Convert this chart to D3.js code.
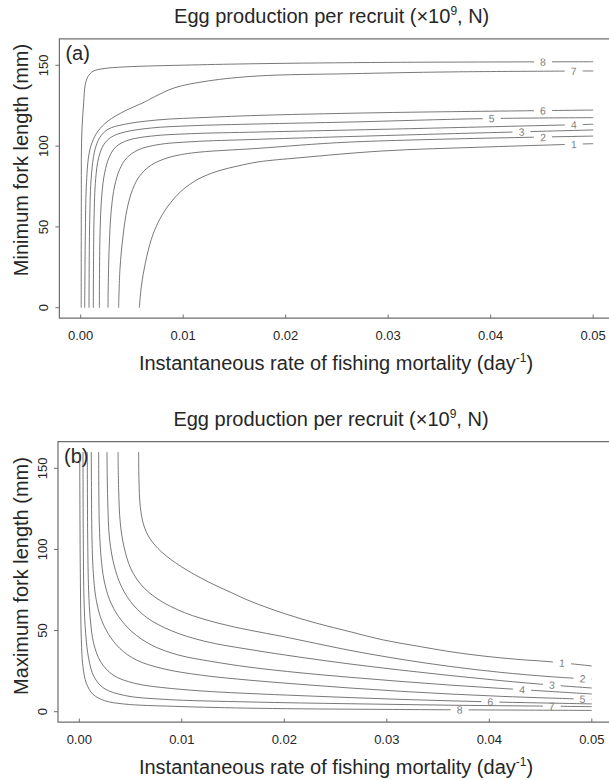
<!DOCTYPE html>
<html><head><meta charset="utf-8">
<script src="https://cdn.jsdelivr.net/npm/d3@7"></script>
<style>
body{margin:0;background:#fff}
text{font-family:Arial,"Liberation Sans",sans-serif}
</style></head>
<body><svg id="c" width="609" height="780"></svg>
<script>
// ---------- data ----------
const levels = [1, 2, 3, 4, 5, 6, 7, 8];
const xTicks = [0, 0.01, 0.02, 0.03, 0.04, 0.05];
const xTickLabels = ["0.00", "0.01", "0.02", "0.03", "0.04", "0.05"];
const yTicks = [0, 50, 100, 150];
const yTickLabels = ["0", "50", "100", "150"];

// Panel (a): minimum fork length — contour lines as [F, L]
const minC1 = [[0.00572,0],[0.00592,13.4],[0.00631,27.8],[0.00689,42.3],[0.00754,52.6],[0.00852,62.9],[0.00982,72.2],[0.01144,79.5],[0.0134,84.6],[0.01535,87.7],[0.0173,90.2],[0.0214,92.8],[0.0295,97],[0.0393,99.4],[0.05,101.5]];
const minC2 = [[0.0037,0],[0.00383,23.8],[0.00413,44.4],[0.00452,60.9],[0.00507,73.3],[0.00575,81.5],[0.00689,88.3],[0.00852,92.8],[0.01079,95.7],[0.0173,98.6],[0.0263,102.5],[0.05,106.2]];
const minC3 = [[0.00266,0],[0.00276,34],[0.00299,60.9],[0.00331,75.3],[0.0038,85.6],[0.00445,92.4],[0.00559,97.6],[0.00754,100.9],[0.01079,102.7],[0.0173,104.2],[0.0328,107.1],[0.05,110]];
const minC4 = [[0.00182,0],[0.00188,44.4],[0.00205,69.1],[0.00234,83.5],[0.00276,92.8],[0.00341,99.4],[0.00461,103.6],[0.00689,106.2],[0.01079,107.7],[0.0173,108.7],[0.0295,110.4],[0.05,113.5]];
const minC5 = [[0.00123,0],[0.0013,54.7],[0.00146,79.5],[0.00175,92.8],[0.00227,101.1],[0.00299,105.6],[0.00429,108.7],[0.00689,111.2],[0.01079,112.6],[0.0173,113.7],[0.0263,114.9],[0.0393,117],[0.05,117.6]];
const minC6 = [[0.00081,0],[0.00088,54.7],[0.00104,81.5],[0.00136,97],[0.00185,105.2],[0.00266,110.4],[0.00429,113.5],[0.00754,116.2],[0.01242,117.8],[0.0173,119],[0.0295,120.7],[0.0442,121.9],[0.05,122.3]];
const minC7 = [[0.00039,0],[0.00045,44.4],[0.00055,75.3],[0.00078,93.9],[0.0011,102.1],[0.00169,109.3],[0.00266,115.5],[0.00429,121.7],[0.00624,127.3],[0.00722,130.6],[0.00917,136.1],[0.01242,140.3],[0.0173,143.4],[0.0263,144.8],[0.036,145.9],[0.05,146.5]];
const minC8 = [[0.00005,0],[0.00006,65],[0.0001,106.2],[0.00029,126.9],[0.00045,138.2],[0.00071,143],[0.0012,146.3],[0.00218,147.9],[0.0043,149],[0.0108,150.2],[0.0173,151],[0.03,151.8],[0.05,152.2]];
const minLabelF = [0.0481, 0.0451, 0.043, 0.0481, 0.0401, 0.0451, 0.0481, 0.0451];

// Panel (b): maximum fork length — contour lines as [F, L]
const maxC1 = [[0.00579,160],[0.00582,142.8],[0.00595,126.4],[0.00628,115.1],[0.00687,106.9],[0.008,98.6],[0.00995,89.4],[0.01256,80.1],[0.01483,73.4],[0.01665,68.2],[0.0199,60.7],[0.02316,54.5],[0.02641,49.3],[0.02966,44.2],[0.03292,40.5],[0.03617,37],[0.03941,34.3],[0.04267,32.3],[0.04592,30.8],[0.05,28.2]];
const maxC2 = [[0.00378,160],[0.00384,136.7],[0.004,116.2],[0.00436,101.7],[0.00501,88.4],[0.00605,78.1],[0.00768,69.3],[0.01028,61],[0.01353,54.6],[0.01665,50.2],[0.0199,46.3],[0.02316,42],[0.02641,37.8],[0.03129,32.4],[0.03617,27.9],[0.04104,24.3],[0.04592,21.6],[0.05,20]];
const maxC3 = [[0.0027,160],[0.00277,130.5],[0.00296,105.9],[0.00339,90.4],[0.00404,78.1],[0.00501,67.8],[0.00654,58.2],[0.00898,49.9],[0.01223,43.4],[0.01665,38.3],[0.02153,33.6],[0.02641,29.4],[0.03129,25.7],[0.03617,22.3],[0.04104,19.2],[0.04592,16.5],[0.05,14.6]];
const maxC4 = [[0.00189,160],[0.00195,116.2],[0.00212,95.6],[0.00241,81.2],[0.00296,68.9],[0.00384,58.6],[0.00514,49.3],[0.00703,41.1],[0.00963,35],[0.01288,31],[0.01665,27.4],[0.02153,24],[0.02641,21.2],[0.03129,18.7],[0.03617,16.4],[0.04104,14.4],[0.04592,12.5],[0.05,10.9]];
const maxC5 = [[0.00117,160],[0.00124,105.9],[0.00137,85.3],[0.0016,70.9],[0.00205,58.6],[0.0028,48.3],[0.00394,39.1],[0.00556,31.9],[0.00817,26.5],[0.01191,22.5],[0.01665,19.4],[0.02153,16.9],[0.02641,14.6],[0.03129,12.6],[0.03617,10.9],[0.04104,9.5],[0.04592,8.4],[0.05,7.6]];
const maxC6 = [[0.00078,160],[0.00082,105.9],[0.00091,75],[0.00108,56.5],[0.0014,42.2],[0.00208,30.8],[0.00329,22.6],[0.0054,17.5],[0.00898,14.3],[0.0129,12.4],[0.01665,11.2],[0.02153,9.9],[0.02641,8.7],[0.03129,7.6],[0.03617,6.7],[0.04104,5.9],[0.04592,5.3],[0.05,4.8]];
const maxC7 = [[0.00036,160],[0.00039,105.9],[0.00046,68.9],[0.00062,48.3],[0.00091,32.9],[0.00143,21.6],[0.00241,14.4],[0.00443,10],[0.00833,7.6],[0.01665,6],[0.02641,4.9],[0.03617,4],[0.04592,3.4],[0.05,3.1]];
const maxC8 = [[0.00004,160],[0.0001,85.3],[0.0002,44.2],[0.00036,27.7],[0.00069,17.5],[0.00134,10.7],[0.00248,6.8],[0.00443,4.7],[0.0093,3.3],[0.01743,2.1],[0.03,1.4],[0.05,0.8]];
const maxLabelF = [0.0471, 0.0491, 0.0461, 0.0432, 0.0491, 0.0401, 0.0461, 0.0371];

const minContours = [minC1, minC2, minC3, minC4, minC5, minC6, minC7, minC8];
const maxContours = [maxC1, maxC2, maxC3, maxC4, maxC5, maxC6, maxC7, maxC8];

// ---------- drawing ----------
const svg = d3.select("#c");
const lineCol = "#555", boxCol = "#6e6e6e", textCol = "#262626", labCol = "#808080";

function panel(cfg) {
  const x = d3.scaleLinear().domain([0, 0.05]).range([cfg.x0, cfg.x5]);
  const y = d3.scaleLinear().domain([0, 150]).range([cfg.y0, cfg.y150]);
  const left = x(-0.00208), right = x(0.052);
  const top = y(166.4), bottom = y(-6.4);
  const g = svg.append("g");

  // title
  const t = g.append("text").attr("x", (left + 596) / 2 + 4).attr("y", top - 16)
    .attr("text-anchor", "middle").attr("font-size", 20).attr("fill", textCol);
  t.append("tspan").text("Egg production per recruit (×10");
  t.append("tspan").text("9").attr("font-size", 12).attr("dy", -8);
  t.append("tspan").text(", N)").attr("dy", 8);

  // box
  g.append("path").attr("d", `M${right},${top}H${left}V${bottom}H${right}`)
    .attr("fill", "none").attr("stroke", boxCol).attr("stroke-width", 1.2);

  // x ticks (inward)
  g.selectAll(".xt").data(xTicks).join("line")
    .attr("x1", d => x(d)).attr("x2", d => x(d))
    .attr("y1", bottom).attr("y2", bottom - 3.5).attr("stroke", boxCol);
  g.selectAll(".xl").data(xTicks).join("text")
    .attr("x", d => x(d)).attr("y", bottom + 22)
    .attr("text-anchor", "middle").attr("font-size", 13).attr("fill", textCol)
    .text((d, i) => xTickLabels[i]);
  // y ticks (outward)
  g.selectAll(".yt").data(yTicks).join("line")
    .attr("x1", left).attr("x2", left - 4)
    .attr("y1", d => y(d)).attr("y2", d => y(d)).attr("stroke", boxCol);
  g.selectAll(".yl").data(yTicks).join("text")
    .attr("transform", d => `translate(${left - 11},${y(d)}) rotate(-90)`)
    .attr("text-anchor", "middle").attr("font-size", 13).attr("fill", textCol)
    .text((d, i) => yTickLabels[i]);

  // axis titles
  const xt = g.append("text").attr("x", 336).attr("y", bottom + 51.5)
    .attr("text-anchor", "middle").attr("font-size", 20).attr("fill", textCol);
  xt.append("tspan").text("Instantaneous rate of fishing mortality (day");
  xt.append("tspan").text("-1").attr("font-size", 12).attr("dy", -8);
  xt.append("tspan").text(")").attr("dy", 8);
  g.append("text").attr("transform", `translate(28,${cfg.yTitleY}) rotate(-90)`)
    .attr("text-anchor", "middle").attr("font-size", 20).attr("fill", textCol)
    .text(cfg.yTitle);

  // panel letter
  g.append("text").attr("x", left + 6).attr("y", top + 21)
    .attr("font-size", 20).attr("fill", textCol).text(cfg.letter);

  // contours
  const line = d3.line().x(d => x(d[0])).y(d => y(d[1])).curve(d3.curveCatmullRom.alpha(0.5));
  const defs = svg.append("defs");
  cfg.contours.forEach((pts, i) => {
    const lf = cfg.labelF[i];
    let px = x(lf), py = null, ang = 0;
    for (let k = 0; k < pts.length - 1; k++) {
      const a = pts[k], b = pts[k + 1];
      if (lf >= a[0] && lf <= b[0]) {
        const tt = (lf - a[0]) / (b[0] - a[0]);
        const L = a[1] + tt * (b[1] - a[1]);
        py = y(L);
        ang = Math.atan2(y(b[1]) - y(a[1]), x(b[0]) - x(a[0])) * 180 / Math.PI;
      }
    }
    const id = cfg.letter.replace(/\W/g, "") + "m" + i;
    const m = defs.append("mask").attr("id", id).attr("maskUnits", "userSpaceOnUse")
      .attr("x", 0).attr("y", 0).attr("width", 609).attr("height", 780);
    m.append("rect").attr("x", 0).attr("y", 0).attr("width", 609).attr("height", 780).attr("fill", "#fff");
    m.append("rect").attr("x", -9).attr("y", -4).attr("width", 18).attr("height", 8).attr("fill", "#000")
      .attr("transform", `translate(${px},${py}) rotate(${ang})`);
    g.append("path").attr("d", line(pts)).attr("fill", "none")
      .attr("stroke", lineCol).attr("stroke-width", 0.8).attr("mask", `url(#${id})`);
    g.append("text").attr("transform", `translate(${px},${py}) rotate(${ang})`)
      .attr("dy", "0.36em").attr("text-anchor", "middle").attr("font-size", 10.5)
      .attr("fill", labCol).text(levels[i]);
  });
}

panel({ x0: 80.7, x5: 593.2, y0: 307.7, y150: 65.3, contours: minContours, labelF: minLabelF,
        letter: "(a)", yTitle: "Minimum fork length (mm)", yTitleY: 160 });
panel({ x0: 79.3, x5: 591.8, y0: 711.7, y150: 468.3, contours: maxContours, labelF: maxLabelF,
        letter: "(b)", yTitle: "Maximum fork length (mm)", yTitleY: 576 });
</script></body></html>
